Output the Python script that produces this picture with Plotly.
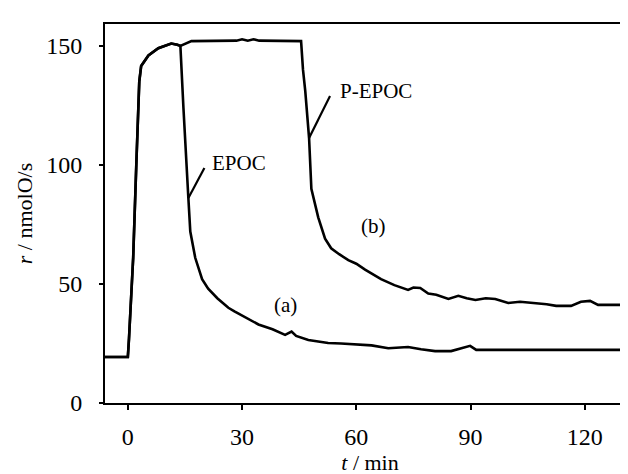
import plotly.graph_objects as go

# Curve (a): EPOC
t_a = [-6, 0, 0.3, 1.4, 2.2, 3.0, 3.5, 5.4, 8, 11.4, 13.0, 13.8, 14.6, 15.3, 15.9, 16.4,
       17.7, 19.5, 21.1, 23.5, 26.4, 28, 29.8, 32, 34.3, 38, 41.3, 43, 44.2, 47.4, 50,
       52.6, 56, 60.5, 64, 68.4, 73.6, 77, 80.7, 84.9, 88, 89.9, 91.5, 133.2]
r_a = [19.3, 19.3, 27, 61, 99, 135, 141.6, 146, 149, 151, 150.5, 150, 124, 100, 86, 72,
       61, 52, 48, 44, 40, 38.5, 37, 35, 33, 31, 28.6, 30, 28.2, 26.5, 26,
       25.2, 25, 24.4, 24.2, 23, 23.5, 22.6, 21.8, 21.8, 23, 24, 22.3, 22.3]

# Curve (b): P-EPOC
t_b = [-6, 0, 0.3, 1.4, 2.2, 3.0, 3.5, 5.4, 8, 11.4, 13.0, 13.8, 16.7, 25, 28.5, 30, 31.5,
       33, 34.5, 45.5, 46.0, 46.6, 47.6, 48.2, 50, 51.8, 53.4, 55.5, 57.9, 60, 62.3, 66.5,
       70, 73.6, 75, 76.8, 78.9, 81, 84.2, 86.8, 89, 91.3, 94, 96.5, 99.9, 103, 107, 110,
       112.5, 116.4, 119, 121.4, 123.5, 133.2]
r_b = [19.3, 19.3, 27, 61, 99, 135, 141.6, 146, 149, 151, 150.5, 150, 152, 152, 152.2, 152.8, 152.2,
       152.8, 152.2, 152, 140, 131, 111.3, 90, 78, 69, 65, 62.5, 60, 58.5, 56, 52,
       49.5, 47.5, 48.5, 48.3, 46, 45.5, 43.7, 45, 44, 43.3, 44, 43.7, 42, 42.5, 42, 41.5,
       40.8, 40.8, 42.5, 42.9, 41.2, 41.2]

x_ticks = [0, 30, 60, 90, 120]
y_ticks = [0, 50, 100, 150]

# labels: text, t, r, anchor
label_text = ["EPOC", "P-EPOC", "(a)", "(b)"]
label_t = [21.5, 55.2, 41.3, 64.4]
label_r = [100.8, 131.0, 41.2, 74.4]
label_anchor = ["left", "left", "center", "center"]

# pointer lines: (t0, r0) -> (t1, r1)
ptr_t0 = [15.9, 47.6]
ptr_r0 = [86.1, 111.3]
ptr_t1 = [20.1, 53.1]
ptr_r1 = [98.7, 129.0]

FONT = "Liberation Serif"

fig = go.Figure()
fig.add_trace(go.Scatter(x=t_a, y=r_a, mode="lines",
                         line=dict(color="black", width=2.6), showlegend=False))
fig.add_trace(go.Scatter(x=t_b, y=r_b, mode="lines",
                         line=dict(color="black", width=2.6), showlegend=False))

for txt, tx, ry, anc in zip(label_text, label_t, label_r, label_anchor):
    fig.add_annotation(x=tx, y=ry, text=txt, showarrow=False, xanchor=anc,
                       yanchor="middle", font=dict(family=FONT, size=21, color="black"))

for x0, y0, x1, y1 in zip(ptr_t0, ptr_r0, ptr_t1, ptr_r1):
    fig.add_shape(type="line", x0=x0, y0=y0, x1=x1, y1=y1, xref="x", yref="y",
                  line=dict(color="black", width=2.2))

fig.update_layout(
    width=628, height=474,
    margin=dict(l=97, r=1, t=16, b=79, autoexpand=False),
    paper_bgcolor="white", plot_bgcolor="white",
    font=dict(family=FONT, size=24, color="black"),
    xaxis=dict(range=[-6, 133.2], tickvals=x_ticks, ticks="outside", ticklen=5,
               tickwidth=2, tickcolor="black", showgrid=False, zeroline=False,
               showline=True, linecolor="black", linewidth=2, mirror=True,
               automargin=False, ticklabelstandoff=6,
               title=dict(text="<i>t</i> / min", font=dict(family=FONT, size=22), standoff=2)),
    yaxis=dict(range=[0, 159.2], tickvals=y_ticks, ticks="outside", ticklen=4,
               tickwidth=2, tickcolor="black", showgrid=False, zeroline=False,
               showline=True, linecolor="black", linewidth=2, mirror=True,
               automargin=False, ticklabelstandoff=12,
               title=dict(text="<i>r</i> / nmolO/s", font=dict(family=FONT, size=22), standoff=8)),
)

fig.write_html("out.html")
